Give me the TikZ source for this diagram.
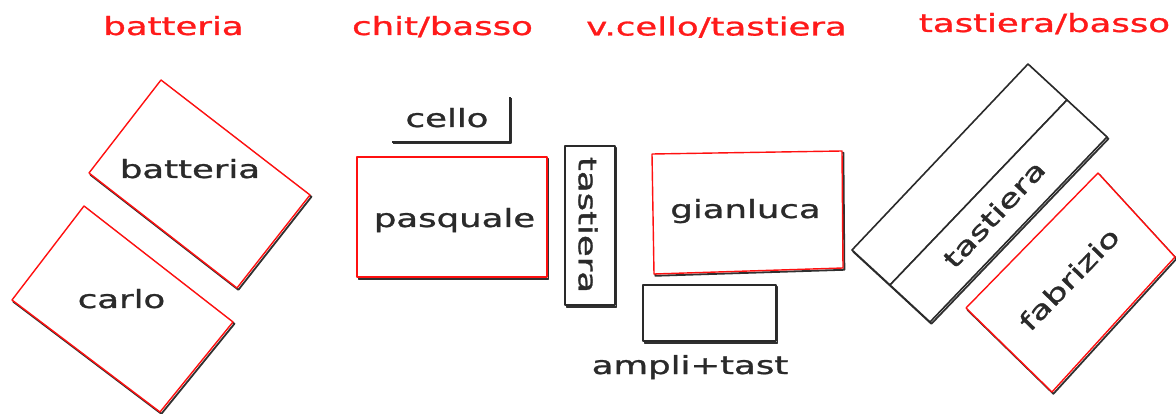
\documentclass[tikz,border=0pt]{standalone}
\usepackage{fontspec}
\usepackage{graphicx}
\newfontfamily\diagfont[FakeBold=1]{DejaVu Sans}
\definecolor{titlered}{HTML}{FF1A1A}
\definecolor{boxred}{HTML}{FF1010}
\definecolor{inkgray}{HTML}{2A2A2A}
\definecolor{shadowgray}{HTML}{303030}
\newcommand\wide[1]{\scalebox{1.42}[1]{#1}}
\newcommand\shpoly[2]{%
  \draw[shadowpath, shift={(1.4,1.8)}] #2 -- cycle;
  \draw[#1] #2 -- cycle;}
\begin{document}
\begin{tikzpicture}[x=1pt,y=-1pt,
  redbox/.style={draw=boxred, fill=white, line width=1.4pt, line join=round},
  blackbox/.style={draw=inkgray, fill=white, line width=1.6pt, line join=round},
  shadowpath/.style={draw=shadowgray, line width=1.8pt, line join=round},
  labeltext/.style={text=inkgray, font=\diagfont\fontsize{25}{30}\selectfont, inner sep=0pt},
  titletext/.style={text=titlered, font=\diagfont\fontsize{25}{30}\selectfont, inner sep=0pt, anchor=base},
  edge line/.style={draw=inkgray, line width=1.3pt}]
\useasboundingbox (0,0) rectangle (1176,414);

% titles
\node[titletext] (t1) at (173.5,35) {\wide{batteria}};
\node[titletext] (t2) at (442.5,35) {\wide{chit/basso}};
\node[titletext] (t3) at (716.5,35.5) {\wide{v.cello/tastiera}};
\node[titletext] (t4) at (1044.5,32) {\wide{tastiera/basso}};

% batteria group
\shpoly{redbox}{(161,80) -- (310,195) -- (237,288) -- (89,173)}
\shpoly{redbox}{(84,206) -- (233,322) -- (160,412) -- (12,300)}
\node[labeltext, anchor=base] (lbatt) at (190,178) {\wide{batteria}};
\node[labeltext, anchor=base] (lcarlo) at (121.5,308) {\wide{carlo}};

% chit/basso group
\draw[shadowpath, shift={(1.2,1.4)}] (392,142) -- (510,142) -- (510,97);
\draw[edge line] (392,142) -- (510,142) -- (510,97);
\node[labeltext, anchor=base] (lcello) at (447,127) {\wide{cello}};
\shpoly{redbox}{(357,157) -- (547,157) -- (547,277) -- (357,277)}
\node[labeltext, anchor=base] (lpasq) at (454.5,227) {\wide{pasquale}};

% v.cello/tastiera group
\shpoly{blackbox}{(565,146) -- (615,146) -- (615,305) -- (565,305)}
\node[labeltext, rotate=-90] (ltast1) at (588,225) {\wide{tastiera}};
\shpoly{redbox}{(652,154) -- (842,151) -- (843,268) -- (654,274)}
\node[labeltext, anchor=base] (lgian) at (745.5,218) {\wide{gianluca}};
\shpoly{blackbox}{(643,285) -- (776,285) -- (776,341) -- (643,341)}
\node[labeltext, anchor=base] (lampli) at (690,374) {\wide{ampli+tast}};

% tastiera/basso group
\shpoly{blackbox}{(1028,64) -- (1067,100) -- (890,285) -- (852,250)}
\shpoly{blackbox}{(1067,100) -- (1107,137) -- (930,322) -- (890,285)}
\node[labeltext, rotate=47] (ltast2) at (994,214) {\wide{tastiera}};
\shpoly{redbox}{(1098,173) -- (1175,257) -- (1052,392) -- (966,308)}
\node[labeltext, rotate=46] (lfab) at (1069,279) {\wide{fabrizio}};
\end{tikzpicture}
\end{document}
